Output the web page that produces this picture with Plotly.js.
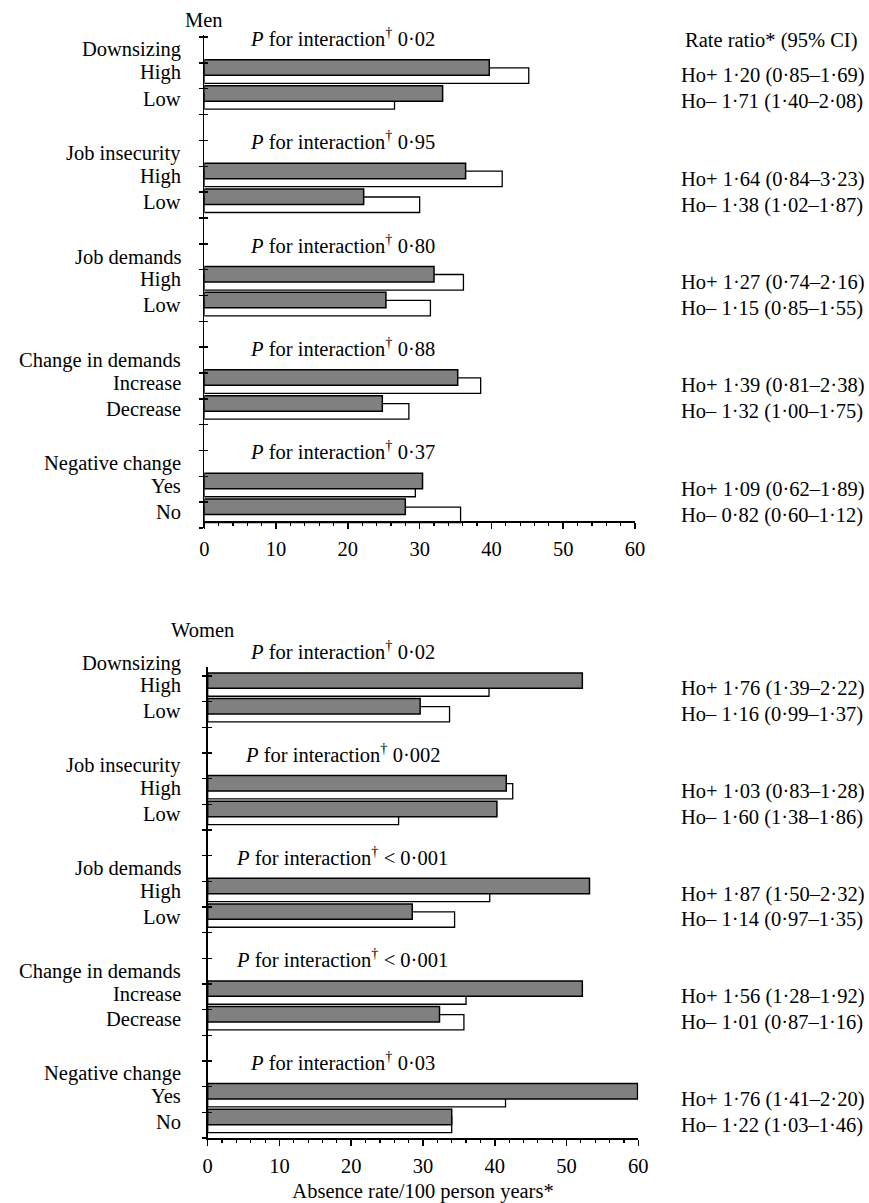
<!DOCTYPE html>
<html>
<head>
<meta charset="utf-8">
<script src="https://cdn.plot.ly/plotly-3.0.1.min.js"></script>
<style>html,body{margin:0;padding:0;background:#fff;}#chart{width:869px;height:1203px;}</style>
</head>
<body>
<div id="chart"></div>
<script>
// ---------- data ----------
const groups = ['Downsizing', 'Job insecurity', 'Job demands', 'Change in demands', 'Negative change'];
const levels = [['High', 'Low'], ['High', 'Low'], ['High', 'Low'], ['Increase', 'Decrease'], ['Yes', 'No']];

const menShaded   = [39.7, 33.2, 36.4, 22.2, 32.0, 25.3, 35.3, 24.8, 30.4, 28.0];
const menOpen     = [45.2, 26.5, 41.5, 30.0, 36.1, 31.5, 38.5, 28.5, 29.4, 35.7];
const womenShaded = [52.2, 29.6, 41.6, 40.3, 53.2, 28.5, 52.2, 32.3, 59.9, 34.0];
const womenOpen   = [39.2, 33.7, 42.5, 26.6, 39.3, 34.4, 36.0, 35.7, 41.5, 34.0];

const menP   = ['0·02', '0·95', '0·80', '0·88', '0·37'];
const womenP = ['0·02', '0·002', '< 0·001', '< 0·001', '0·03'];

const menRRplus    = ['1·20 (0·85–1·69)', '1·64 (0·84–3·23)', '1·27 (0·74–2·16)', '1·39 (0·81–2·38)', '1·09 (0·62–1·89)'];
const menRRminus   = ['1·71 (1·40–2·08)', '1·38 (1·02–1·87)', '1·15 (0·85–1·55)', '1·32 (1·00–1·75)', '0·82 (0·60–1·12)'];
const womenRRplus  = ['1·76 (1·39–2·22)', '1·03 (0·83–1·28)', '1·87 (1·50–2·32)', '1·56 (1·28–1·92)', '1·76 (1·41–2·20)'];
const womenRRminus = ['1·16 (0·99–1·37)', '1·60 (1·38–1·86)', '1·14 (0·97–1·35)', '1·01 (0·87–1·16)', '1·22 (1·03–1·46)'];

const xTickVals = [0, 10, 20, 30, 40, 50, 60];

// ---------- layout helpers ----------
const W = 869, H = 1203;
const FONT = 'Liberation Serif, Times New Roman, serif';
const FS = 20.5;
const px2py = p => 1 - p / H;
const px2px = p => p / W;

const panels = [
  { name: 'Men', shaded: menShaded, open: menOpen, P: menP, plus: menRRplus, minus: menRRminus,
    xa: 'x', ya: 'y', ya2: 'y3', range: [19, -0.08], dom: [px2py(528), px2py(35)], xdom: [px2px(204.3), px2px(635)],
    tickvals: Array.from({length: 20}, (_, i) => i) },
  { name: 'Women', shaded: womenShaded, open: womenOpen, P: womenP, plus: womenRRplus, minus: womenRRminus,
    xa: 'x2', ya: 'y2', ya2: 'y4', range: [19, 0.65], dom: [px2py(1138), px2py(667)], xdom: [px2px(207.7), px2px(638.3)],
    tickvals: Array.from({length: 19}, (_, i) => i + 1) }
];

function py(panel, idx) {
  const [d0, d1] = panel.dom, [r0, r1] = panel.range;
  return d0 + (idx - r0) / (r1 - r0) * (d1 - d0);
}

const traces = [];
const annotations = [];
const txt = (text, x, y, xanchor, extra) => Object.assign({
  text, x, y, xref: 'paper', yref: 'paper', xanchor, yanchor: 'middle', showarrow: false,
  font: { family: FONT, size: FS, color: '#000' }
}, extra || {});

panels.forEach(p => {
  const pos = [];
  groups.forEach((g, gi) => levels[gi].forEach((l, j) => pos.push(4 * gi + 1 + j)));
  traces.push({
    type: 'bar', orientation: 'h', x: p.open, y: pos, xaxis: p.xa, yaxis: p.ya,
    width: 0.6, offset: 0.19, marker: { color: '#ffffff', line: { color: '#000', width: 1.3 } },
    hoverinfo: 'x', showlegend: false
  });
  traces.push({
    type: 'bar', orientation: 'h', x: p.shaded, y: pos, xaxis: p.xa, yaxis: p.ya,
    width: 0.6, offset: -0.12, marker: { color: '#808080', line: { color: '#000', width: 1.5 } },
    hoverinfo: 'x', showlegend: false
  });
  traces.push({ type: 'scatter', x: [], y: [], xaxis: p.xa, yaxis: p.ya2, showlegend: false, hoverinfo: 'skip' });

  const labX = px2px(183), rrX = px2px(679), pX = px2px(342);
  groups.forEach((g, gi) => {
    annotations.push(txt(g, labX, py(p, 4 * gi + 0.5), 'right'));
    levels[gi].forEach((l, j) => annotations.push(txt(l, labX, py(p, 4 * gi + 1 + j + 0.38), 'right')));
    annotations.push(txt('<i>P</i> for interaction<sup>†</sup> ' + p.P[gi], pX, py(p, 4 * gi), 'center'));
    annotations.push(txt('Ho+ ' + p.plus[gi], rrX, py(p, 4 * gi + 1.5), 'left'));
    annotations.push(txt('Ho– ' + p.minus[gi], rrX, py(p, 4 * gi + 2.5), 'left'));
  });
});

annotations.push(txt('Men', px2px(204), px2py(20), 'center'));
annotations.push(txt('Women', px2px(202), px2py(630), 'center'));
annotations.push(txt('Rate ratio* (95% CI)', px2px(771), px2py(40), 'center'));

const axFont = { family: FONT, size: FS, color: '#000' };
function xAxis(p, extra) {
  return Object.assign({
    domain: p.xdom, range: [0, 60], tickmode: 'array', tickvals: xTickVals,
    ticks: 'outside', ticklen: 6, tickwidth: 1.5, tickcolor: '#000',
    minor: { tickmode: 'linear', tick0: 0, dtick: 2, ticks: 'outside', ticklen: 3, tickwidth: 1.2, tickcolor: '#000' },
    showline: true, linewidth: 2, linecolor: '#000', showgrid: false, zeroline: false,
    tickfont: axFont, ticklabelstandoff: 2, fixedrange: true
  }, extra || {});
}
function yAxis(p, x) {
  return {
    domain: p.dom, range: p.range, anchor: x, tickmode: 'array', tickvals: p.tickvals,
    ticks: 'outside', ticklen: 4, tickwidth: 1.5, tickcolor: '#000', showticklabels: false,
    showline: true, linewidth: 1.5, linecolor: '#000', showgrid: false, zeroline: false, fixedrange: true
  };
}
function yOver(p, base, x) {
  return {
    overlaying: base, range: p.range, anchor: x, side: 'left', tickmode: 'array', tickvals: p.tickvals,
    ticks: 'inside', ticklen: 4, tickwidth: 1.5, tickcolor: '#000', showticklabels: false,
    showline: false, showgrid: false, zeroline: false, fixedrange: true
  };
}

const layout = {
  width: W, height: H, margin: { l: 0, r: 0, t: 0, b: 0 },
  paper_bgcolor: '#fff', plot_bgcolor: 'rgba(0,0,0,0)',
  barmode: 'overlay', showlegend: false, font: axFont,
  xaxis: xAxis(panels[0], { anchor: 'free', position: px2py(522) }),
  yaxis: yAxis(panels[0], 'x'),
  yaxis3: yOver(panels[0], 'y', 'x'),
  xaxis2: xAxis(panels[1], { anchor: 'y2', title: { text: 'Absence rate/100 person years*', font: axFont, standoff: 8 } }),
  yaxis2: yAxis(panels[1], 'x2'),
  yaxis4: yOver(panels[1], 'y2', 'x2'),
  annotations
};

Plotly.newPlot('chart', traces, layout, { displayModeBar: false, staticPlot: true });
</script>
</body>
</html>
